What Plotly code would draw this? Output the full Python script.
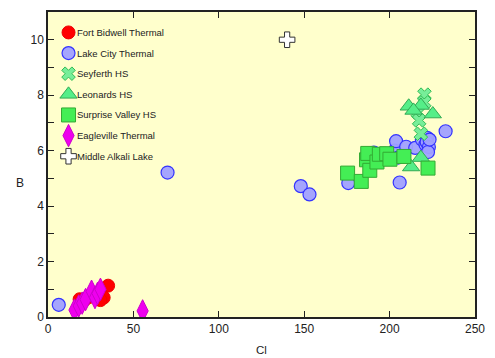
import plotly.graph_objects as go

# Cl (mg/L) and B (mg/L) for each sampling group
fort_bidwell_cl = [35.2, 32.6, 30.7, 18.5, 21.5, 24.0, 28.0]
fort_bidwell_b = [1.13, 0.70, 0.61, 0.64, 0.62, 0.72, 0.80]

lake_city_cl = [6.3, 70.0, 148.0, 153.1, 175.8, 190.8, 203.0, 203.8, 205.9, 209.7,
                215.0, 218.9, 221.0, 222.0, 221.7, 223.0, 222.5, 223.4, 232.8, 205.0]
lake_city_b = [0.44, 5.21, 4.72, 4.42, 4.83, 5.93, 6.00, 6.34, 4.85, 6.14,
               6.10, 6.40, 6.22, 6.46, 6.31, 6.13, 5.95, 6.40, 6.70, 5.75]

seyferth_cl = [220.4, 220.3, 216.5, 217.3, 218.3]
seyferth_b = [8.02, 7.74, 7.38, 7.09, 6.61]

leonards_cl = [211.2, 218.3, 225.3, 212.6, 218.3, 214.0]
leonards_b = [7.60, 7.63, 7.32, 5.41, 5.75, 7.45]

surprise_cl = [175.4, 183.4, 186.5, 187.2, 188.4, 192.6, 194.0, 198.3, 200.2, 208.4, 222.5]
surprise_b = [5.19, 4.89, 5.67, 5.90, 5.29, 5.59, 5.87, 5.89, 5.69, 5.79, 5.37]

eagleville_cl = [15.5, 18.0, 20.0, 22.0, 25.5, 27.5, 29.0, 30.7, 55.4]
eagleville_b = [0.25, 0.40, 0.50, 0.63, 0.93, 0.70, 0.85, 1.00, 0.22]

middle_alkali_cl = [140.0]
middle_alkali_b = [10.0]

x_ticks = [0, 50, 100, 150, 200, 250]
y_ticks = [0, 2, 4, 6, 8, 10]

series = [
    ("Fort Bidwell Thermal", fort_bidwell_cl, fort_bidwell_b,
     dict(symbol="circle", size=13, color="#ff0000", line=dict(color="#ee0000", width=1))),
    ("Lake City Thermal", lake_city_cl, lake_city_b,
     dict(symbol="circle", size=13, color="rgba(160,160,255,0.95)", line=dict(color="#3333ff", width=1.2))),
    ("Seyferth HS", seyferth_cl, seyferth_b,
     dict(symbol="x", size=12, color="#77ee99", line=dict(color="#33bb55", width=1))),
    ("Leonards HS", leonards_cl, leonards_b,
     dict(symbol="triangle-up", size=15, color="#55ee88", line=dict(color="#33aa55", width=1))),
    ("Surprise Valley HS", surprise_cl, surprise_b,
     dict(symbol="square", size=14, color="#44ee55", line=dict(color="#33aa33", width=1))),
    ("Eagleville Thermal", eagleville_cl, eagleville_b,
     dict(symbol="diamond-tall", size=16, color="#ee00ee", line=dict(color="#cc00cc", width=1))),
    ("Middle Alkali Lake", middle_alkali_cl, middle_alkali_b,
     dict(symbol="cross", size=13, color="#ffffff", line=dict(color="#333333", width=1))),
]

# plot-area geometry in pixels
W, H = 495, 358
L, R, T, B = 48, 10, 11, 41
plot_w, plot_h = W - L - R, H - T - B

fig = go.Figure()
for name, xs, ys, marker in series:
    fig.add_trace(go.Scatter(x=xs, y=ys, mode="markers", name=name,
                             marker=marker, showlegend=False))

# Key in the upper-left corner: symbols on an overlay axis spanning [0, 1],
# labels as annotations placed just right of each symbol.
key_x = 21 / plot_w
key_text_x = 28 / plot_w
key_top, key_step = 20.5 / plot_h, 20.7 / plot_h
annotations = []
for i, (name, _, _, marker) in enumerate(series):
    ky = 1 - key_top - i * key_step
    fig.add_trace(go.Scatter(x=[key_x], y=[ky], mode="markers", marker=marker,
                             xaxis="x2", yaxis="y2", showlegend=False,
                             hoverinfo="skip"))
    annotations.append(dict(text=name, x=key_text_x, y=ky, xref="paper", yref="paper",
                            xanchor="left", yanchor="middle", showarrow=False,
                            font=dict(size=9.5, color="#222222")))

axis_common = dict(
    showgrid=False, zeroline=False, showline=True, linecolor="#222222", linewidth=1.5,
    mirror="ticks", ticks="inside", ticklen=6, tickcolor="#222222", tickwidth=1.2,
    tickfont=dict(family="Liberation Sans, Arial", size=12, color="#222222"),
)

fig.update_xaxes(range=[0, 250], tickvals=x_ticks, **axis_common)
fig.update_yaxes(range=[0, 11], tickvals=y_ticks,
                 minor=dict(dtick=1, ticks="inside", ticklen=6, tickcolor="#222222"),
                 **axis_common)

annotations += [
    dict(text="Cl", x=0.5, y=-(350 - (H - B)) / plot_h, xref="paper", yref="paper",
         showarrow=False, yanchor="middle", font=dict(size=11.5)),
    dict(text="B", x=-(L - 13) / plot_w, y=((H - B) - 183) / plot_h,
         xref="paper", yref="paper", showarrow=False, font=dict(size=12)),
]

fig.update_layout(
    width=W, height=H,
    margin=dict(l=L, r=R, t=T, b=B),
    paper_bgcolor="white",
    plot_bgcolor="#ffffcc",
    font=dict(family="Liberation Sans, Arial", color="#222222"),
    showlegend=False,
    xaxis2=dict(overlaying="x", range=[0, 1], visible=False, fixedrange=True),
    yaxis2=dict(overlaying="y", range=[0, 1], visible=False, fixedrange=True),
    annotations=annotations,
)

fig.write_html("out.html")
